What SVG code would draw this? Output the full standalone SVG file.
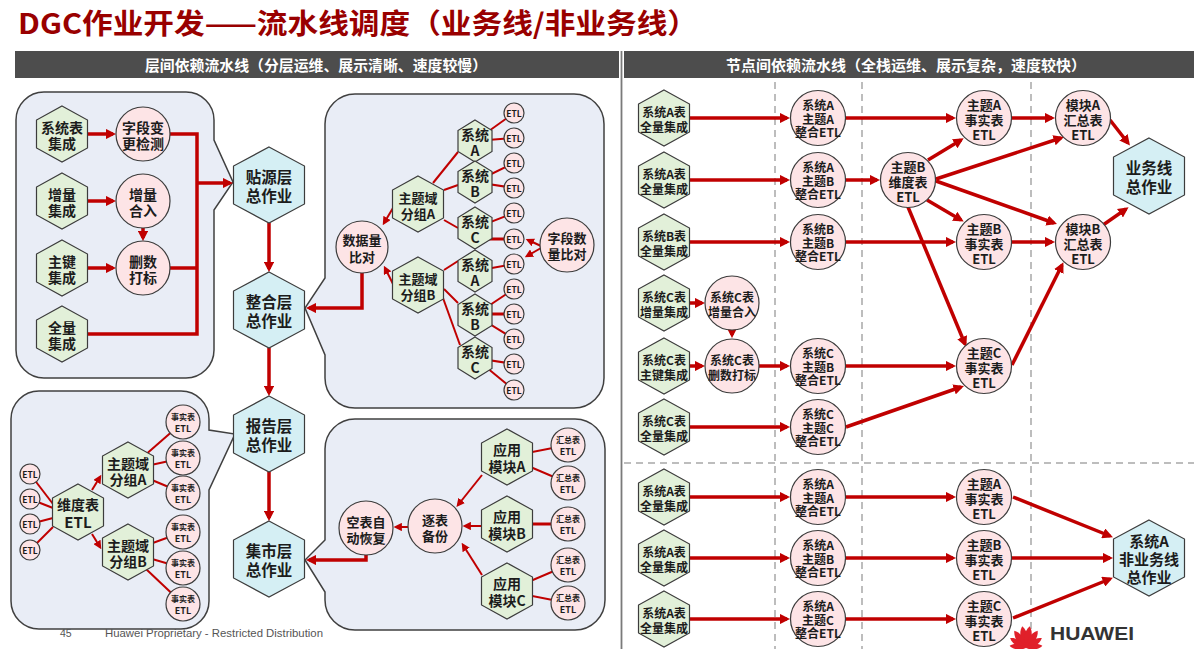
<svg xmlns="http://www.w3.org/2000/svg" width="1194" height="649" viewBox="0 0 1194 649">
<defs>
<style>
.t{font-family:"Noto Sans CJK SC","Microsoft YaHei","Noto Sans",sans-serif;font-weight:700;text-anchor:middle;dominant-baseline:central;fill:#1c1c1c}
.hg{fill:#e2f0d9;stroke:#3c3c3c;stroke-width:1.2}
.hb{fill:#d5eff4;stroke:#3c3c3c;stroke-width:1.2}
.c{fill:#fde4e6;stroke:#3c3c3c;stroke-width:1.2}
.box{fill:#e9edf6;stroke:#404040;stroke-width:1.5}
.k{fill:none;stroke:#c00000;stroke-width:3.5}
.n{fill:none;stroke:#c00000;stroke-width:2}
.w{fill:none;stroke:#c00000;stroke-width:3}
.a{marker-end:url(#ah)}
.an{marker-end:url(#ahn)}
.d{stroke:#bdbdbd;stroke-width:2;stroke-dasharray:7 5;fill:none}
.f16{font-size:15.5px}
.f14{font-size:14px}
.f13{font-size:13px}
.f12{font-size:12px}
.f9{font-size:8.5px}
.f8{font-size:8px}
.hd{font-family:"Noto Sans CJK SC","Microsoft YaHei",sans-serif;font-weight:700;font-size:14.5px;fill:#ffffff;text-anchor:middle;dominant-baseline:central}
.ft{font-family:"Liberation Sans",Arial,sans-serif;font-size:10.5px;fill:#555}
</style>
<marker id="ah" viewBox="0 0 10 10" refX="7" refY="5" markerWidth="3" markerHeight="3" orient="auto" markerUnits="strokeWidth"><path d="M0,0 L10,5 L0,10 Z" fill="#c00000"/></marker>
<marker id="ahn" viewBox="0 0 10 10" refX="7" refY="5" markerWidth="4.2" markerHeight="4.2" orient="auto" markerUnits="strokeWidth"><path d="M0,0 L10,5 L0,10 Z" fill="#c00000"/></marker>
<polygon id="hS" points="0,-28 25.5,-14 25.5,14 0,28 -25.5,14 -25.5,-14"/>
<polygon id="hT" points="0,-21 17,-10.5 17,10.5 0,21 -17,10.5 -17,-10.5"/>
<polygon id="hL" points="0,-38 35.5,-19 35.5,19 0,38 -35.5,19 -35.5,-19"/>
<path id="pt" d="M0,0 C-4,-6 -5.2,-16 0,-22 C5.2,-16 4,-6 0,0 Z" fill="#e0202a"/>
</defs>

<rect width="1194" height="649" fill="#ffffff"/>

<!-- title and headers -->
<text x="18" y="34" font-family="'Noto Sans CJK SC','Microsoft YaHei',sans-serif" font-weight="700" font-size="28" fill="#990000" textLength="680" lengthAdjust="spacingAndGlyphs">DGC作业开发——流水线调度（业务线/非业务线）</text>
<rect x="15" y="51" width="604" height="27" fill="#4d4d4d"/>
<rect x="624" y="51" width="570" height="27" fill="#4d4d4d"/>
<text class="hd" x="316" y="64.5" textLength="342" lengthAdjust="spacingAndGlyphs">层间依赖流水线（分层运维、展示清晰、速度较慢）</text>
<text class="hd" x="906" y="64.5" textLength="360" lengthAdjust="spacingAndGlyphs">节点间依赖流水线（全栈运维、展示复杂，速度较快）</text>
<line x1="621.5" y1="51" x2="621.5" y2="649" stroke="#7a7a7a" stroke-width="1.8"/>

<!-- dashed grid -->
<g id="grid">
<line class="d" x1="775" y1="82" x2="775" y2="649"/>
<line class="d" x1="862" y1="82" x2="862" y2="649"/>
<line class="d" x1="1031" y1="82" x2="1031" y2="649"/>
<line class="d" x1="624" y1="463" x2="1194" y2="463"/>
</g>

<!-- callout boxes -->
<g id="boxes">
<path class="box" d="M44,92 H186 A28,28 0 0 1 214,120 V140 L233,182 L214,210 V350 A28,28 0 0 1 186,378 H44 A28,28 0 0 1 16,350 V120 A28,28 0 0 1 44,92 Z"/>
<path class="box" d="M355,94 H574 A30,30 0 0 1 604,124 V378 A30,30 0 0 1 574,408 H355 A30,30 0 0 1 325,378 V355 L305,308 L325,278 V124 A30,30 0 0 1 355,94 Z"/>
<path class="box" d="M39,391 H181 A28,28 0 0 1 209,419 V430 L235,434 L209,490 V601 A28,28 0 0 1 181,629 H39 A28,28 0 0 1 11,601 V419 A28,28 0 0 1 39,391 Z"/>
<path class="box" d="M355,419 H575 A30,30 0 0 1 605,449 V600 A30,30 0 0 1 575,630 H355 A30,30 0 0 1 325,600 V592 L305,560 L325,540 V449 A30,30 0 0 1 355,419 Z"/>
</g>

<!-- connectors -->
<g id="connectors">
<path class="k a" d="M88,134 H113"/>
<path class="k a" d="M88,201 H113"/>
<path class="k a" d="M88,268 H113"/>
<path class="k a" d="M143,228 V238"/>
<path class="k" d="M170,134 H197 V334 H88"/>
<path class="k" d="M170,268 H197"/>
<path class="k a" d="M197,183 H230"/>
<path class="k a" d="M269,223 V269" stroke-width="4"/>
<path class="k a" d="M269,348 V393" stroke-width="4"/>
<path class="k a" d="M269,472 V518" stroke-width="4"/>
<path class="k a" d="M362,273 V308 H309"/>
<path class="k a" d="M366,555 V560 H309"/>
<path class="n" d="M433,183 L458,152"/>
<path class="n" d="M444,190 L458,185"/>
<path class="n" d="M444,220 L458,228"/>
<path class="n" d="M444,270 L458,261"/>
<path class="n" d="M444,289 L458,303"/>
<path class="n" d="M443,298 L460,345"/>
<path class="n an" d="M393,208 L384,223"/>
<path class="n an" d="M393,284 L385,268"/>
<path class="n" d="M475,141 L514,113"/>
<path class="n" d="M475,141 L514,138"/>
<path class="n" d="M475,182 L514,163"/>
<path class="n" d="M475,182 L514,188"/>
<path class="n" d="M475,228 L514,213"/>
<path class="w" d="M475,239 L514,239"/>
<path class="n" d="M475,271 L514,264"/>
<path class="n" d="M475,315 L514,289"/>
<path class="w" d="M475,314 L514,314"/>
<path class="n" d="M475,315 L514,339"/>
<path class="n" d="M475,358 L514,364"/>
<path class="n" d="M475,358 L514,390"/>
<path class="n an" d="M541,246 L528,240"/>
<path class="n an" d="M541,248 L527,256"/>
<path class="n" d="M30,474 L53,504"/>
<path class="n" d="M30,499 L53,508"/>
<path class="n" d="M30,524 L53,518"/>
<path class="n" d="M30,550 L53,527"/>
<path class="n an" d="M92,490 L100,477"/>
<path class="n an" d="M92,534 L100,547"/>
<path class="n" d="M128,470 L183,422"/>
<path class="n" d="M128,470 L183,458"/>
<path class="n" d="M128,470 L183,493"/>
<path class="n" d="M128,552 L183,532"/>
<path class="n" d="M128,552 L183,568"/>
<path class="n" d="M128,552 L183,604"/>
<path class="n an" d="M482,475 L458,505"/>
<path class="n an" d="M482,526 L465,526"/>
<path class="n an" d="M482,575 L463,545"/>
<path class="n an" d="M408,527 L396,527"/>
<path class="n" d="M507,457 L568,445"/>
<path class="n" d="M507,457 L568,483"/>
<path class="w" d="M507,524 L568,524"/>
<path class="n" d="M507,591 L568,565"/>
<path class="n" d="M507,591 L568,603"/>
<path class="k a" d="M690,118 H787"/>
<path class="k a" d="M690,180 H787"/>
<path class="k a" d="M690,242 H787"/>
<path class="k a" d="M690,303 H702"/>
<path class="k a" d="M690,366 H702"/>
<path class="k a" d="M732,329 V335"/>
<path class="k a" d="M759,366 H787"/>
<path class="k a" d="M690,427 H787"/>
<path class="k a" d="M846,118 H953"/>
<path class="k a" d="M846,180 H877"/>
<path class="k a" d="M846,242 H953"/>
<path class="k a" d="M846,366 H953"/>
<path class="k a" d="M846,427 L961,387"/>
<path class="k a" d="M1012,118 H1052"/>
<path class="k a" d="M1012,242 H1052"/>
<path class="k a" d="M1110,120 L1128,143"/>
<path class="k a" d="M1103,225 L1126,209"/>
<path class="k a" d="M928,160 L961,140"/>
<path class="k a" d="M936,179 L1061,138"/>
<path class="k a" d="M936,181 L1054,223"/>
<path class="k a" d="M927,200 L961,220"/>
<path class="k a" d="M908,207 L965,344"/>
<path class="k a" d="M1012,365 L1062,265"/>
<path class="k a" d="M690,497 H787"/>
<path class="k a" d="M690,558 H787"/>
<path class="k a" d="M690,619 H787"/>
<path class="k a" d="M846,497 H953"/>
<path class="k a" d="M846,558 H953"/>
<path class="k a" d="M846,619 H953"/>
<path class="k a" d="M1013,497 L1110,536"/>
<path class="k a" d="M1012,558 H1110"/>
<path class="k a" d="M1013,618 L1110,579"/>
</g>

<!-- upper-left box nodes -->
<g id="n-xtb"><use href="#hS" x="62" y="134" class="hg"/><text class="t f14"><tspan x="62" y="127">系统表</tspan><tspan x="62" y="143">集成</tspan></text></g>
<g id="n-zl"><use href="#hS" x="62" y="201" class="hg"/><text class="t f14"><tspan x="62" y="194">增量</tspan><tspan x="62" y="210">集成</tspan></text></g>
<g id="n-zj"><use href="#hS" x="62" y="268" class="hg"/><text class="t f14"><tspan x="62" y="261">主键</tspan><tspan x="62" y="277">集成</tspan></text></g>
<g id="n-ql"><use href="#hS" x="62" y="334" class="hg"/><text class="t f14"><tspan x="62" y="327">全量</tspan><tspan x="62" y="343">集成</tspan></text></g>
<g id="n-zdbg"><circle class="c" cx="143" cy="134" r="27"/><text class="t f14"><tspan x="143" y="127">字段变</tspan><tspan x="143" y="143">更检测</tspan></text></g>
<g id="n-zlhr"><circle class="c" cx="143" cy="201" r="27"/><text class="t f14"><tspan x="143" y="194">增量</tspan><tspan x="143" y="210">合入</tspan></text></g>
<g id="n-scdb"><circle class="c" cx="143" cy="268" r="27"/><text class="t f14"><tspan x="143" y="261">删数</tspan><tspan x="143" y="277">打标</tspan></text></g>

<!-- layer nodes -->
<g id="n-ty"><use href="#hL" x="269" y="185" class="hb"/><text class="t f16"><tspan x="269" y="176">贴源层</tspan><tspan x="269" y="195">总作业</tspan></text></g>
<g id="n-zh"><use href="#hL" x="269" y="310" class="hb"/><text class="t f16"><tspan x="269" y="301">整合层</tspan><tspan x="269" y="320">总作业</tspan></text></g>
<g id="n-bg"><use href="#hL" x="269" y="434" class="hb"/><text class="t f16"><tspan x="269" y="425">报告层</tspan><tspan x="269" y="444">总作业</tspan></text></g>
<g id="n-js"><use href="#hL" x="269" y="559" class="hb"/><text class="t f16"><tspan x="269" y="550">集市层</tspan><tspan x="269" y="569">总作业</tspan></text></g>

<!-- upper-right box nodes -->
<g id="n-sjlbd"><circle class="c" cx="362" cy="247" r="26"/><text class="t f13"><tspan x="362" y="239">数据量</tspan><tspan x="362" y="256">比对</tspan></text></g>
<g id="n-ztA"><use href="#hS" x="418" y="204" class="hg"/><text class="t f13"><tspan x="418" y="197">主题域</tspan><tspan x="418" y="213">分组A</tspan></text></g>
<g id="n-ztB"><use href="#hS" x="418" y="285" class="hg"/><text class="t f13"><tspan x="418" y="278">主题域</tspan><tspan x="418" y="294">分组B</tspan></text></g>
<g id="n-sA1"><use href="#hT" x="475" y="141" class="hg"/><text class="t f14"><tspan x="475" y="134">系统</tspan><tspan x="475" y="150">A</tspan></text></g>
<g id="n-sB1"><use href="#hT" x="475" y="182" class="hg"/><text class="t f14"><tspan x="475" y="175">系统</tspan><tspan x="475" y="191">B</tspan></text></g>
<g id="n-sC1"><use href="#hT" x="475" y="228" class="hg"/><text class="t f14"><tspan x="475" y="221">系统</tspan><tspan x="475" y="237">C</tspan></text></g>
<g id="n-sA2"><use href="#hT" x="475" y="271" class="hg"/><text class="t f14"><tspan x="475" y="264">系统</tspan><tspan x="475" y="280">A</tspan></text></g>
<g id="n-sB2"><use href="#hT" x="475" y="315" class="hg"/><text class="t f14"><tspan x="475" y="308">系统</tspan><tspan x="475" y="324">B</tspan></text></g>
<g id="n-sC2"><use href="#hT" x="475" y="358" class="hg"/><text class="t f14"><tspan x="475" y="351">系统</tspan><tspan x="475" y="367">C</tspan></text></g>
<g id="n-etl-u1"><circle class="c" cx="514" cy="113" r="10"/><text class="t f9" x="514" y="113">ETL</text></g>
<g id="n-etl-u2"><circle class="c" cx="514" cy="138" r="10"/><text class="t f9" x="514" y="138">ETL</text></g>
<g id="n-etl-u3"><circle class="c" cx="514" cy="163" r="10"/><text class="t f9" x="514" y="163">ETL</text></g>
<g id="n-etl-u4"><circle class="c" cx="514" cy="188" r="10"/><text class="t f9" x="514" y="188">ETL</text></g>
<g id="n-etl-u5"><circle class="c" cx="514" cy="213" r="10"/><text class="t f9" x="514" y="213">ETL</text></g>
<g id="n-etl-u6"><circle class="c" cx="514" cy="239" r="10"/><text class="t f9" x="514" y="239">ETL</text></g>
<g id="n-etl-u7"><circle class="c" cx="514" cy="264" r="10"/><text class="t f9" x="514" y="264">ETL</text></g>
<g id="n-etl-u8"><circle class="c" cx="514" cy="289" r="10"/><text class="t f9" x="514" y="289">ETL</text></g>
<g id="n-etl-u9"><circle class="c" cx="514" cy="314" r="10"/><text class="t f9" x="514" y="314">ETL</text></g>
<g id="n-etl-u10"><circle class="c" cx="514" cy="339" r="10"/><text class="t f9" x="514" y="339">ETL</text></g>
<g id="n-etl-u11"><circle class="c" cx="514" cy="364" r="10"/><text class="t f9" x="514" y="364">ETL</text></g>
<g id="n-etl-u12"><circle class="c" cx="514" cy="390" r="10"/><text class="t f9" x="514" y="390">ETL</text></g>
<g id="n-zdslbd"><circle class="c" cx="567" cy="245" r="27"/><text class="t f13"><tspan x="567" y="237">字段数</tspan><tspan x="567" y="253">量比对</tspan></text></g>

<!-- lower-left box nodes -->
<g id="n-etl-l1"><circle class="c" cx="30" cy="474" r="10"/><text class="t f9" x="30" y="474">ETL</text></g>
<g id="n-etl-l2"><circle class="c" cx="30" cy="499" r="10"/><text class="t f9" x="30" y="499">ETL</text></g>
<g id="n-etl-l3"><circle class="c" cx="30" cy="524" r="10"/><text class="t f9" x="30" y="524">ETL</text></g>
<g id="n-etl-l4"><circle class="c" cx="30" cy="550" r="10"/><text class="t f9" x="30" y="550">ETL</text></g>
<g id="n-wdb"><use href="#hS" x="78" y="512" class="hg"/><text class="t f14"><tspan x="78" y="504">维度表</tspan><tspan x="78" y="521" font-size="15">ETL</tspan></text></g>
<g id="n-ztA2"><use href="#hS" x="128" y="470" class="hg"/><text class="t f14"><tspan x="128" y="463">主题域</tspan><tspan x="128" y="479">分组A</tspan></text></g>
<g id="n-ztB2"><use href="#hS" x="128" y="552" class="hg"/><text class="t f14"><tspan x="128" y="545">主题域</tspan><tspan x="128" y="561">分组B</tspan></text></g>
<g id="n-ss1"><circle class="c" cx="183" cy="422" r="17"/><text class="t f8"><tspan x="183" y="416">事实表</tspan><tspan x="183" y="428" font-size="9">ETL</tspan></text></g>
<g id="n-ss2"><circle class="c" cx="183" cy="458" r="17"/><text class="t f8"><tspan x="183" y="452">事实表</tspan><tspan x="183" y="464" font-size="9">ETL</tspan></text></g>
<g id="n-ss3"><circle class="c" cx="183" cy="493" r="17"/><text class="t f8"><tspan x="183" y="487">事实表</tspan><tspan x="183" y="499" font-size="9">ETL</tspan></text></g>
<g id="n-ss4"><circle class="c" cx="183" cy="532" r="17"/><text class="t f8"><tspan x="183" y="526">事实表</tspan><tspan x="183" y="538" font-size="9">ETL</tspan></text></g>
<g id="n-ss5"><circle class="c" cx="183" cy="568" r="17"/><text class="t f8"><tspan x="183" y="562">事实表</tspan><tspan x="183" y="574" font-size="9">ETL</tspan></text></g>
<g id="n-ss6"><circle class="c" cx="183" cy="604" r="17"/><text class="t f8"><tspan x="183" y="598">事实表</tspan><tspan x="183" y="610" font-size="9">ETL</tspan></text></g>

<!-- lower-right box nodes -->
<g id="n-kbhf"><circle class="c" cx="366" cy="528" r="27"/><text class="t f13"><tspan x="366" y="521">空表自</tspan><tspan x="366" y="537">动恢复</tspan></text></g>
<g id="n-zbbf"><circle class="c" cx="435" cy="526" r="27"/><text class="t f13"><tspan x="435" y="519">逐表</tspan><tspan x="435" y="535">备份</tspan></text></g>
<g id="n-mkA"><use href="#hS" x="507" y="457" class="hg"/><text class="t f14"><tspan x="507" y="449">应用</tspan><tspan x="507" y="466">模块A</tspan></text></g>
<g id="n-mkB"><use href="#hS" x="507" y="524" class="hg"/><text class="t f14"><tspan x="507" y="516">应用</tspan><tspan x="507" y="533">模块B</tspan></text></g>
<g id="n-mkC"><use href="#hS" x="507" y="591" class="hg"/><text class="t f14"><tspan x="507" y="583">应用</tspan><tspan x="507" y="600">模块C</tspan></text></g>
<g id="n-hz1"><circle class="c" cx="568" cy="445" r="17"/><text class="t f8"><tspan x="568" y="439">汇总表</tspan><tspan x="568" y="451" font-size="9">ETL</tspan></text></g>
<g id="n-hz2"><circle class="c" cx="568" cy="483" r="17"/><text class="t f8"><tspan x="568" y="477">汇总表</tspan><tspan x="568" y="489" font-size="9">ETL</tspan></text></g>
<g id="n-hz3"><circle class="c" cx="568" cy="524" r="17"/><text class="t f8"><tspan x="568" y="518">汇总表</tspan><tspan x="568" y="530" font-size="9">ETL</tspan></text></g>
<g id="n-hz4"><circle class="c" cx="568" cy="565" r="17"/><text class="t f8"><tspan x="568" y="559">汇总表</tspan><tspan x="568" y="571" font-size="9">ETL</tspan></text></g>
<g id="n-hz5"><circle class="c" cx="568" cy="603" r="17"/><text class="t f8"><tspan x="568" y="597">汇总表</tspan><tspan x="568" y="609" font-size="9">ETL</tspan></text></g>

<!-- right panel: source hexes -->
<g id="r-s1"><use href="#hS" x="664" y="118" class="hg"/><text class="t f12"><tspan x="664" y="111">系统A表</tspan><tspan x="664" y="126">全量集成</tspan></text></g>
<g id="r-s2"><use href="#hS" x="664" y="180" class="hg"/><text class="t f12"><tspan x="664" y="173">系统A表</tspan><tspan x="664" y="188">全量集成</tspan></text></g>
<g id="r-s3"><use href="#hS" x="664" y="242" class="hg"/><text class="t f12"><tspan x="664" y="235">系统B表</tspan><tspan x="664" y="250">全量集成</tspan></text></g>
<g id="r-s4"><use href="#hS" x="664" y="303" class="hg"/><text class="t f12"><tspan x="664" y="296">系统C表</tspan><tspan x="664" y="311">增量集成</tspan></text></g>
<g id="r-s5"><use href="#hS" x="664" y="366" class="hg"/><text class="t f12"><tspan x="664" y="359">系统C表</tspan><tspan x="664" y="374">主键集成</tspan></text></g>
<g id="r-s6"><use href="#hS" x="664" y="427" class="hg"/><text class="t f12"><tspan x="664" y="420">系统C表</tspan><tspan x="664" y="435">全量集成</tspan></text></g>
<g id="r-s7"><use href="#hS" x="664" y="497" class="hg"/><text class="t f12"><tspan x="664" y="490">系统A表</tspan><tspan x="664" y="505">全量集成</tspan></text></g>
<g id="r-s8"><use href="#hS" x="664" y="558" class="hg"/><text class="t f12"><tspan x="664" y="551">系统A表</tspan><tspan x="664" y="566">全量集成</tspan></text></g>
<g id="r-s9"><use href="#hS" x="664" y="619" class="hg"/><text class="t f12"><tspan x="664" y="612">系统A表</tspan><tspan x="664" y="627">全量集成</tspan></text></g>

<!-- right panel: C preprocessing -->
<g id="r-chr"><circle class="c" cx="732" cy="303" r="27"/><text class="t f12"><tspan x="732" y="296">系统C表</tspan><tspan x="732" y="311">增量合入</tspan></text></g>
<g id="r-csd"><circle class="c" cx="732" cy="366" r="27"/><text class="t f12"><tspan x="732" y="359">系统C表</tspan><tspan x="732" y="374">删数打标</tspan></text></g>

<!-- right panel: integration ETL -->
<g id="r-i1"><circle class="c" cx="818" cy="118" r="27.5"/><text class="t f12"><tspan x="818" y="104">系统A</tspan><tspan x="818" y="117.5">主题A</tspan><tspan x="818" y="131">整合ETL</tspan></text></g>
<g id="r-i2"><circle class="c" cx="818" cy="180" r="27.5"/><text class="t f12"><tspan x="818" y="166">系统A</tspan><tspan x="818" y="179.5">主题B</tspan><tspan x="818" y="193">整合ETL</tspan></text></g>
<g id="r-i3"><circle class="c" cx="818" cy="242" r="27.5"/><text class="t f12"><tspan x="818" y="228">系统B</tspan><tspan x="818" y="241.5">主题B</tspan><tspan x="818" y="255">整合ETL</tspan></text></g>
<g id="r-i4"><circle class="c" cx="818" cy="366" r="27.5"/><text class="t f12"><tspan x="818" y="352">系统C</tspan><tspan x="818" y="365.5">主题B</tspan><tspan x="818" y="379">整合ETL</tspan></text></g>
<g id="r-i5"><circle class="c" cx="818" cy="427" r="27.5"/><text class="t f12"><tspan x="818" y="413">系统C</tspan><tspan x="818" y="426.5">主题C</tspan><tspan x="818" y="440">整合ETL</tspan></text></g>
<g id="r-i6"><circle class="c" cx="818" cy="497" r="27.5"/><text class="t f12"><tspan x="818" y="483">系统A</tspan><tspan x="818" y="496.5">主题A</tspan><tspan x="818" y="510">整合ETL</tspan></text></g>
<g id="r-i7"><circle class="c" cx="818" cy="558" r="27.5"/><text class="t f12"><tspan x="818" y="544">系统A</tspan><tspan x="818" y="557.5">主题B</tspan><tspan x="818" y="571">整合ETL</tspan></text></g>
<g id="r-i8"><circle class="c" cx="818" cy="619" r="27.5"/><text class="t f12"><tspan x="818" y="605">系统A</tspan><tspan x="818" y="618.5">主题C</tspan><tspan x="818" y="632">整合ETL</tspan></text></g>

<!-- right panel: dimension / fact / summary -->
<g id="r-wd"><circle class="c" cx="908" cy="180" r="27.5"/><text class="t f13"><tspan x="908" y="166">主题B</tspan><tspan x="908" y="181">维度表</tspan><tspan x="908" y="196">ETL</tspan></text></g>
<g id="r-fa"><circle class="c" cx="984" cy="118" r="27.5"/><text class="t f13"><tspan x="984" y="104">主题A</tspan><tspan x="984" y="119">事实表</tspan><tspan x="984" y="134">ETL</tspan></text></g>
<g id="r-fb"><circle class="c" cx="984" cy="242" r="27.5"/><text class="t f13"><tspan x="984" y="228">主题B</tspan><tspan x="984" y="243">事实表</tspan><tspan x="984" y="258">ETL</tspan></text></g>
<g id="r-fc"><circle class="c" cx="984" cy="366" r="27.5"/><text class="t f13"><tspan x="984" y="352">主题C</tspan><tspan x="984" y="367">事实表</tspan><tspan x="984" y="382">ETL</tspan></text></g>
<g id="r-ma"><circle class="c" cx="1083" cy="118" r="27.5"/><text class="t f13"><tspan x="1083" y="104">模块A</tspan><tspan x="1083" y="119">汇总表</tspan><tspan x="1083" y="134">ETL</tspan></text></g>
<g id="r-mb"><circle class="c" cx="1083" cy="242" r="27.5"/><text class="t f13"><tspan x="1083" y="228">模块B</tspan><tspan x="1083" y="243">汇总表</tspan><tspan x="1083" y="258">ETL</tspan></text></g>
<g id="r-yw"><use href="#hL" x="1149" y="176" class="hb"/><text class="t f16"><tspan x="1149" y="167">业务线</tspan><tspan x="1149" y="186">总作业</tspan></text></g>
<g id="r-fa2"><circle class="c" cx="984" cy="497" r="27.5"/><text class="t f13"><tspan x="984" y="483">主题A</tspan><tspan x="984" y="498">事实表</tspan><tspan x="984" y="513">ETL</tspan></text></g>
<g id="r-fb2"><circle class="c" cx="984" cy="558" r="27.5"/><text class="t f13"><tspan x="984" y="544">主题B</tspan><tspan x="984" y="559">事实表</tspan><tspan x="984" y="574">ETL</tspan></text></g>
<g id="r-fc2"><circle class="c" cx="984" cy="619" r="27.5"/><text class="t f13"><tspan x="984" y="605">主题C</tspan><tspan x="984" y="620">事实表</tspan><tspan x="984" y="635">ETL</tspan></text></g>
<g id="r-fyw"><use href="#hL" x="1149" y="558" class="hb"/><text class="t" font-size="15"><tspan x="1149" y="540">系统A</tspan><tspan x="1149" y="558">非业务线</tspan><tspan x="1149" y="576">总作业</tspan></text></g>

<!-- footer -->
<text class="ft" x="60" y="637">45</text>
<text class="ft" x="105" y="637" textLength="218" lengthAdjust="spacingAndGlyphs">Huawei Proprietary - Restricted Distribution</text>
<g id="logo">
<use href="#pt" transform="translate(1026,648) rotate(-10)"/>
<use href="#pt" transform="translate(1026,648) rotate(10)"/>
<use href="#pt" transform="translate(1026,648) rotate(-34) scale(0.95)"/>
<use href="#pt" transform="translate(1026,648) rotate(34) scale(0.95)"/>
<use href="#pt" transform="translate(1026,648) rotate(-58) scale(0.85)"/>
<use href="#pt" transform="translate(1026,648) rotate(58) scale(0.85)"/>
<use href="#pt" transform="translate(1026,648) rotate(-82) scale(0.75)"/>
<use href="#pt" transform="translate(1026,648) rotate(82) scale(0.75)"/>
</g>
<text x="1050" y="640" font-family="'Liberation Sans',Arial,sans-serif" font-weight="700" font-size="18" fill="#333" textLength="84" lengthAdjust="spacingAndGlyphs">HUAWEI</text>
</svg>
